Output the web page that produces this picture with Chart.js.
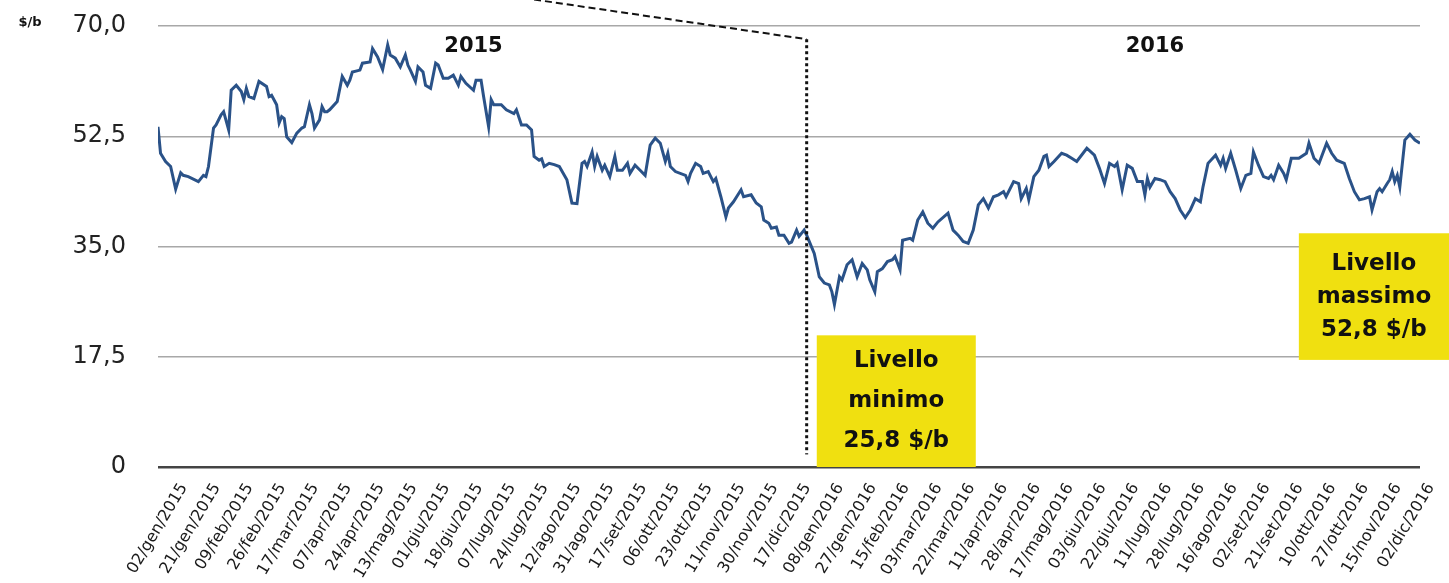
<!DOCTYPE html>
<html>
<head>
<meta charset="utf-8">
<script src="https://cdn.jsdelivr.net/npm/chart.js@4/dist/chart.umd.min.js"></script>
<style>
  html, body { margin: 0; padding: 0; background: #ffffff; }
  #wrap { width: 1449px; height: 583px; }
</style>
</head>
<body>
<div id="wrap"><canvas id="c" width="1449" height="583"></canvas></div>
<script>
// ---- DATA ----
// Tick labels (one every 13 trading days)
const dateLabels = [
  "02/gen/2015","21/gen/2015","09/feb/2015","26/feb/2015","17/mar/2015","07/apr/2015",
  "24/apr/2015","13/mag/2015","01/giu/2015","18/giu/2015","07/lug/2015","24/lug/2015",
  "12/ago/2015","31/ago/2015","17/set/2015","06/ott/2015","23/ott/2015","11/nov/2015",
  "30/nov/2015","17/dic/2015","08/gen/2016","27/gen/2016","15/feb/2016","03/mar/2016",
  "22/mar/2016","11/apr/2016","28/apr/2016","17/mag/2016","03/giu/2016","22/giu/2016",
  "11/lug/2016","28/lug/2016","16/ago/2016","02/set/2016","21/set/2016","10/ott/2016",
  "27/ott/2016","15/nov/2016","02/dic/2016"
];
const labelStep = 13;      // trading days between tick labels
const lastDay = 500;       // last trading day in the series

// Trading-day index (from 02/gen/2015) of each reading
const days = [
  0,1,3,5,7,9,10,12,16,18,19,20,22,23,25,26,28,29,31,33,34,35,36,38,40,
  43,44,45,47,48,49,50,51,53,55,57,58,60,61,62,64,65,66,67,68,71,73,75,76,77,
  80,81,84,85,87,89,91,92,94,96,98,99,100,102,103,105,106,108,110,111,113,115,117,119,120,
  122,125,126,128,129,131,132,133,136,138,141,142,144,146,148,149,151,152,153,155,157,159,162,164,166,
  168,169,170,172,173,174,176,177,179,181,182,184,186,187,189,191,193,195,197,199,201,202,203,205,209,
  210,211,213,215,216,218,220,221,223,225,226,228,231,232,235,237,239,240,242,243,245,246,248,250,251,
  253,254,256,257,260,262,264,266,267,268,270,271,273,275,277,279,281,282,284,285,287,289,291,292,294,
  295,298,299,301,303,305,307,309,313,315,317,319,321,323,325,327,329,331,333,335,336,339,341,342,344,
  345,347,349,351,352,353,355,358,360,362,364,368,371,373,375,377,379,380,382,384,386,388,390,391,392,
  393,395,397,399,401,403,405,407,409,411,413,414,416,419,421,422,423,425,427,429,431,433,434,436,438,
  440,441,442,444,446,447,449,452,455,456,458,460,463,465,467,470,472,474,476,478,480,481,483,484,485,
  487,488,489,490,491,492,494,496,498,500
];
// Price ($/b) read at each of those days
const prices = [
  54.0,49.8,48.5,47.7,44.1,46.7,46.3,46.1,45.3,46.3,46.1,47.7,53.8,54.3,55.9,56.4,53.5,59.8,60.6,59.6,58.3,60.1,58.8,58.5,61.2,
  60.4,58.8,59.0,57.5,54.6,55.6,55.3,52.4,51.5,53.0,53.8,54.0,57.5,56.1,53.8,55.1,57.2,56.4,56.4,56.7,58.0,62.0,60.6,61.4,62.7,
  63.0,64.1,64.3,66.4,65.1,63.1,67.0,65.4,64.9,63.5,65.4,63.8,63.0,61.2,63.5,62.7,60.6,60.1,64.1,63.8,61.7,61.7,62.2,60.6,62.0,
  60.9,59.8,61.4,61.4,58.8,54.0,58.3,57.5,57.5,56.7,56.1,56.7,54.3,54.3,53.5,49.3,48.7,48.9,47.7,48.2,48.0,47.7,45.6,41.9,41.8,
  48.2,48.5,47.7,50.0,47.7,49.3,47.1,47.9,46.1,49.3,47.1,47.1,48.2,46.6,47.9,47.1,46.3,51.1,52.2,51.4,48.5,49.8,47.7,46.9,46.3,
  45.3,46.6,48.2,47.7,46.6,46.9,45.3,45.8,42.9,39.7,41.1,42.1,44.0,42.9,43.2,41.9,41.3,39.2,38.7,37.9,38.1,36.8,36.8,35.5,35.7,
  37.6,36.6,37.6,36.8,33.9,30.2,29.2,28.9,27.8,25.8,30.2,29.7,32.1,32.9,30.2,32.3,31.3,29.7,27.8,31.0,31.5,32.6,32.9,33.4,31.3,
  36.0,36.3,36.0,39.2,40.5,38.7,37.9,38.9,40.3,37.6,36.8,35.8,35.5,37.6,41.6,42.6,41.1,42.9,43.2,43.7,42.9,45.3,45.0,42.6,44.2,
  42.4,46.1,47.1,49.3,49.5,47.7,48.5,49.8,49.5,49.0,48.5,50.6,49.5,47.4,45.0,48.2,47.7,48.2,44.0,47.9,47.4,45.3,45.3,43.2,45.8,
  44.4,45.8,45.6,45.3,43.7,42.6,40.8,39.6,40.8,42.6,42.1,44.4,48.2,49.5,47.9,49.0,47.4,49.8,47.1,44.2,46.3,46.6,50.0,47.9,46.1,
  45.8,46.3,45.6,47.9,46.6,45.6,49.0,49.0,49.8,51.4,49.0,48.2,51.4,49.8,48.7,48.2,45.8,43.7,42.4,42.6,42.9,40.8,43.7,44.2,43.7,
  45.0,45.6,46.9,45.3,46.3,44.4,51.9,52.8,51.9,51.4
];
const yTicks = [0, 17.5, 35, 52.5, 70];
const yearLabels = ["2015", "2016"];
const yearLabelDays = [125, 395];
const unitLabel = "$/b";
const minBoxLines = ["Livello", "minimo", "25,8 $/b"];
const maxBoxLines = ["Livello", "massimo", "52,8 $/b"];
// Annotation anchors in data units
const minBoxRange = { dayFrom: 261, dayTo: 324, valFrom: 0, valTo: 20.9 };
const maxBoxRange = { dayFrom: 452, dayTo: 520, valFrom: 17.0, valTo: 37.1 };
const guide = { fromDay: 149, fromVal: 74.2, day: 257, topVal: 67.9, bottomVal: 2.0 };

// ---- CHART ----
const fmt = v => v === 0 ? "0" : v.toFixed(1).replace(".", ",");

const overlay = {
  id: "overlay",
  afterDraw(chart) {
    const { ctx, scales: { x, y } } = chart;
    ctx.save();
    // guide lines
    ctx.strokeStyle = "#111";
    ctx.lineWidth = 2;
    ctx.setLineDash([7, 4]);
    ctx.beginPath();
    ctx.moveTo(x.getPixelForValue(guide.fromDay), y.getPixelForValue(guide.fromVal));
    ctx.lineTo(x.getPixelForValue(guide.day), y.getPixelForValue(guide.topVal));
    ctx.stroke();
    ctx.setLineDash([3, 3]);
    ctx.lineWidth = 3;
    ctx.beginPath();
    ctx.moveTo(x.getPixelForValue(guide.day), y.getPixelForValue(guide.topVal));
    ctx.lineTo(x.getPixelForValue(guide.day), y.getPixelForValue(guide.bottomVal));
    ctx.stroke();
    ctx.setLineDash([]);

    // boxes
    function box(r, lines, spacing) {
      const x0 = x.getPixelForValue(r.dayFrom), x1 = x.getPixelForValue(r.dayTo);
      const yTop = y.getPixelForValue(r.valTo), yBot = y.getPixelForValue(r.valFrom);
      ctx.fillStyle = "#f0e010";
      ctx.fillRect(x0, yTop, x1 - x0, yBot - yTop);
      ctx.fillStyle = "#111";
      ctx.font = "bold 23px 'DejaVu Sans'";
      ctx.textAlign = "center";
      ctx.textBaseline = "middle";
      const cx = Math.min((x0 + x1) / 2, (x0 + chart.width) / 2);
      const cy = (yTop + yBot) / 2;
      lines.forEach((t, i) => {
        ctx.fillText(t, cx, cy + (i - (lines.length - 1) / 2) * spacing);
      });
    }
    box(minBoxRange, minBoxLines, 40);
    box(maxBoxRange, maxBoxLines, 33);

    // year labels
    ctx.fillStyle = "#111";
    ctx.font = "bold 21px 'DejaVu Sans'";
    ctx.textAlign = "center";
    ctx.textBaseline = "middle";
    yearLabels.forEach((t, i) => {
      ctx.fillText(t, x.getPixelForValue(yearLabelDays[i]), y.getPixelForValue(66.8));
    });

    // unit label
    ctx.font = "bold 13px 'DejaVu Sans'";
    ctx.textAlign = "center";
    ctx.fillText(unitLabel, 30, y.getPixelForValue(70) - 3);
    ctx.restore();
  }
};

new Chart(document.getElementById("c"), {
  type: "line",
  data: {
    datasets: [{
      data: days.map((d, i) => ({ x: d, y: prices[i] })),
      borderColor: "#2a5288",
      borderWidth: 3,
      pointRadius: 0,
      tension: 0,
      fill: false
    }]
  },
  options: {
    responsive: false,
    devicePixelRatio: 1,
    animation: false,
    layout: { padding: { top: 26, right: 29, left: 0, bottom: 0 } },
    plugins: { legend: { display: false }, tooltip: { enabled: false } },
    scales: {
      x: {
        type: "linear",
        min: 0,
        max: lastDay,
        grid: { display: false, drawTicks: false },
        border: { display: false },
        afterBuildTicks: s => { s.ticks = dateLabels.map((_, i) => ({ value: i * labelStep })); },
        afterFit: s => { s.height = 116; },
        ticks: {
          autoSkip: false,
          minRotation: 59,
          maxRotation: 59,
          padding: 13,
          labelOffset: 26,
          color: "#1a1a1a",
          font: { family: "'DejaVu Sans'", size: 16 },
          callback: v => dateLabels[Math.round(v / labelStep)] ?? ""
        }
      },
      y: {
        min: 0,
        max: 70,
        afterBuildTicks: s => { s.ticks = yTicks.map(v => ({ value: v })); },
        afterFit: s => { s.width = 158; s.paddingTop = 0; s.paddingBottom = 0; },
        border: { display: false },
        grid: {
          drawTicks: false,
          color: c => c.tick.value === 0 ? "#444444" : "#a8a8a8",
          lineWidth: c => c.tick.value === 0 ? 2.5 : 1.5
        },
        ticks: {
          padding: 32,
          color: "#222",
          font: { family: "'DejaVu Sans'", size: 24 },
          callback: v => fmt(v)
        }
      }
    }
  },
  plugins: [overlay]
});
</script>
</body>
</html>
